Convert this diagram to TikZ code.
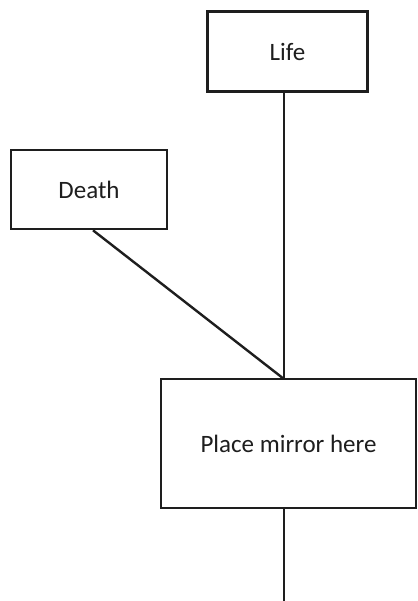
\documentclass[tikz,border=0pt]{standalone}
\usepackage{fontspec}
\setmainfont{Carlito}
\usepackage{xcolor}
\usepackage{tikz}
\usetikzlibrary{positioning,calc}
\definecolor{ink}{HTML}{1E1E1E}
\newcommand{\boxfont}{\fontsize{25}{30}\selectfont}

\begin{document}
\begin{tikzpicture}[x=1pt, y=-1pt,
    framebox/.style={draw=ink, line width=2.6pt, fill=white, inner sep=0pt,
      font=\boxfont, text=ink},
    wire/.style={ink, line width=2.4pt}]
  \useasboundingbox (0,0) rectangle (417,601);
  \node[framebox, minimum width=160pt, minimum height=80pt] (life) at (287.5,51.5) {Life};
  \node[framebox, minimum width=156pt, minimum height=79pt] (death) at (89,189.5) {Death};
  \node[framebox, minimum width=255pt, minimum height=129pt] (mirror) at (288.5,443.5) {Place mirror here};
  \coordinate (join) at (284,379);
  \coordinate (foot) at (284,601);
  % connectors
  \draw[wire] (life.south -| join) -- (join);
  \draw[wire] ($(death.south)+(4,0)$) -- (join);
  \draw[wire] (mirror.south -| join) -- (foot);
\end{tikzpicture}
\end{document}
